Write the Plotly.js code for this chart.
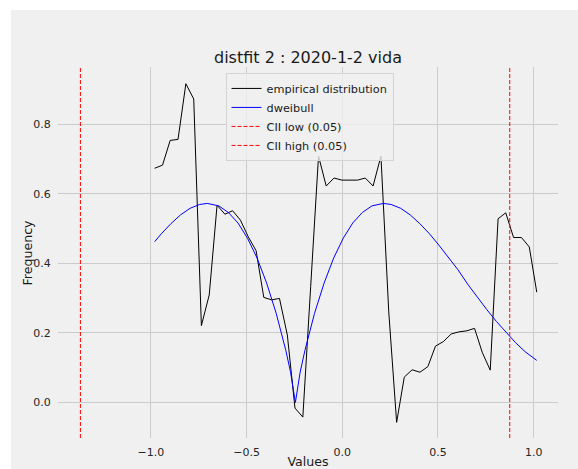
<!DOCTYPE html>
<html>
<head>
<meta charset="utf-8">
<script src="https://cdn.plot.ly/plotly-3.0.1.min.js"></script>
<style>
  html, body { margin: 0; padding: 0; background: #ffffff; }
  #chart { position: absolute; left: 11px; top: 10px; width: 567px; height: 459px; }
</style>
</head>
<body>
<div id="chart"></div>
<script>
// Empirical distribution
const empX = [-0.980, -0.939, -0.899, -0.858, -0.817, -0.776, -0.736, -0.695, -0.654, -0.613,
              -0.573, -0.532, -0.491, -0.450, -0.410, -0.369, -0.328, -0.287, -0.247, -0.206,
              -0.165, -0.124, -0.084, -0.043, -0.002, 0.039, 0.080, 0.120, 0.161, 0.202,
              0.243, 0.284, 0.324, 0.365, 0.406, 0.447, 0.487, 0.528, 0.569, 0.610,
              0.651, 0.691, 0.732, 0.773, 0.814, 0.854, 0.895, 0.936, 0.977, 1.016];
const empY = [0.673, 0.682, 0.753, 0.756, 0.916, 0.872, 0.221, 0.309, 0.567, 0.541,
              0.551, 0.524, 0.476, 0.436, 0.302, 0.295, 0.299, 0.194, -0.016, -0.042,
              0.333, 0.708, 0.622, 0.645, 0.639, 0.639, 0.639, 0.645, 0.622, 0.708,
              0.260, -0.057, 0.073, 0.094, 0.087, 0.103, 0.162, 0.175, 0.197, 0.203,
              0.206, 0.213, 0.143, 0.093, 0.528, 0.545, 0.474, 0.474, 0.447, 0.317];

// Fitted dweibull curve
const fitX = [-0.980, -0.945, -0.895, -0.845, -0.795, -0.745, -0.705, -0.645, -0.595, -0.545,
              -0.495, -0.445, -0.395, -0.345, -0.295, -0.270, -0.245, -0.220, -0.195, -0.145,
              -0.095, -0.045, 0.005, 0.055, 0.105, 0.155, 0.215, 0.255, 0.305, 0.355,
              0.405, 0.455, 0.505, 0.555, 0.605, 0.655, 0.705, 0.755, 0.805, 0.855,
              0.905, 0.955, 1.016];
const fitY = [0.462, 0.485, 0.514, 0.539, 0.558, 0.569, 0.572, 0.565, 0.546, 0.516,
              0.472, 0.415, 0.343, 0.256, 0.150, 0.087, 0.000, 0.087, 0.150, 0.256,
              0.343, 0.415, 0.472, 0.516, 0.546, 0.565, 0.572, 0.569, 0.558, 0.539,
              0.514, 0.485, 0.452, 0.417, 0.381, 0.340, 0.303, 0.267, 0.233, 0.201,
              0.172, 0.146, 0.121];

// Confidence interval limits
const ciiLow = -1.368;
const ciiHigh = 0.875;

const seriesNames = ["empirical distribution", "dweibull", "CII low (0.05)", "CII high (0.05)"];
const chartTitle = "distfit 2 : 2020-1-2 vida";
const xLabel = "Values";
const yLabel = "Frequency";

const xRange = [-1.485, 1.127];
const yRange = [-0.102, 0.964];

const FONT = "DejaVu Sans, sans-serif";

const traces = [
  { x: empX, y: empY, type: "scatter", mode: "lines", name: seriesNames[0],
    line: { color: "#000000", width: 1 } },
  { x: fitX, y: fitY, type: "scatter", mode: "lines", name: seriesNames[1],
    line: { color: "#0000ff", width: 1 } },
  { x: [ciiLow, ciiLow], y: yRange, type: "scatter", mode: "lines", name: seriesNames[2],
    line: { color: "#ff0000", width: 1, dash: "4px,2px" } },
  { x: [ciiHigh, ciiHigh], y: yRange, type: "scatter", mode: "lines", name: seriesNames[3],
    line: { color: "#ff0000", width: 1, dash: "4px,2px" } }
];

const layout = {
  width: 567, height: 459,
  paper_bgcolor: "#f0f0f0",
  plot_bgcolor: "#f0f0f0",
  margin: { l: 47.3, r: 20, t: 56.7, b: 30.7, pad: 0 },
  font: { family: FONT, color: "#222222" },
  showlegend: true,
  title: { text: chartTitle, font: { family: FONT, size: 16, color: "#1a1a1a" },
           x: 0.5, xref: "paper", xanchor: "center", y: 1, yref: "paper", yanchor: "bottom",
           pad: { b: 4 } },
  xaxis: {
    range: xRange, autorange: false, automargin: false,
    tickmode: "linear", tick0: 0, dtick: 0.5, tickformat: ".1f",
    showgrid: true, gridcolor: "#cbcbcb", gridwidth: 1,
    zeroline: false, showline: false,
    ticks: "outside", ticklen: 4, tickcolor: "rgba(0,0,0,0)",
    tickfont: { family: FONT, size: 11, color: "#262626" },
    title: { text: xLabel, font: { family: FONT, size: 12.6, color: "#1a1a1a" }, standoff: 2 }
  },
  yaxis: {
    range: yRange, autorange: false, automargin: false,
    tickmode: "linear", tick0: 0, dtick: 0.2, tickformat: ".1f",
    showgrid: true, gridcolor: "#cbcbcb", gridwidth: 1,
    zeroline: false, showline: false,
    ticks: "outside", ticklen: 4, tickcolor: "rgba(0,0,0,0)",
    tickfont: { family: FONT, size: 11, color: "#262626" }
  },
  annotations: [{
    text: yLabel, textangle: -90, showarrow: false,
    xref: "paper", yref: "paper", x: 0, y: 0.5, xanchor: "center", yanchor: "middle",
    xshift: -31, font: { family: FONT, size: 12.6, color: "#1a1a1a" }
  }],
  legend: {
    x: 0.335, y: 0.984, xanchor: "left", yanchor: "top",
    bgcolor: "rgba(240,240,240,0.8)", bordercolor: "#d4d4d4", borderwidth: 1,
    font: { family: FONT, size: 11.3, color: "#1a1a1a" },
    tracegroupgap: 0
  }
};

Plotly.newPlot("chart", traces, layout, { displayModeBar: false, staticPlot: true });
</script>
</body>
</html>
